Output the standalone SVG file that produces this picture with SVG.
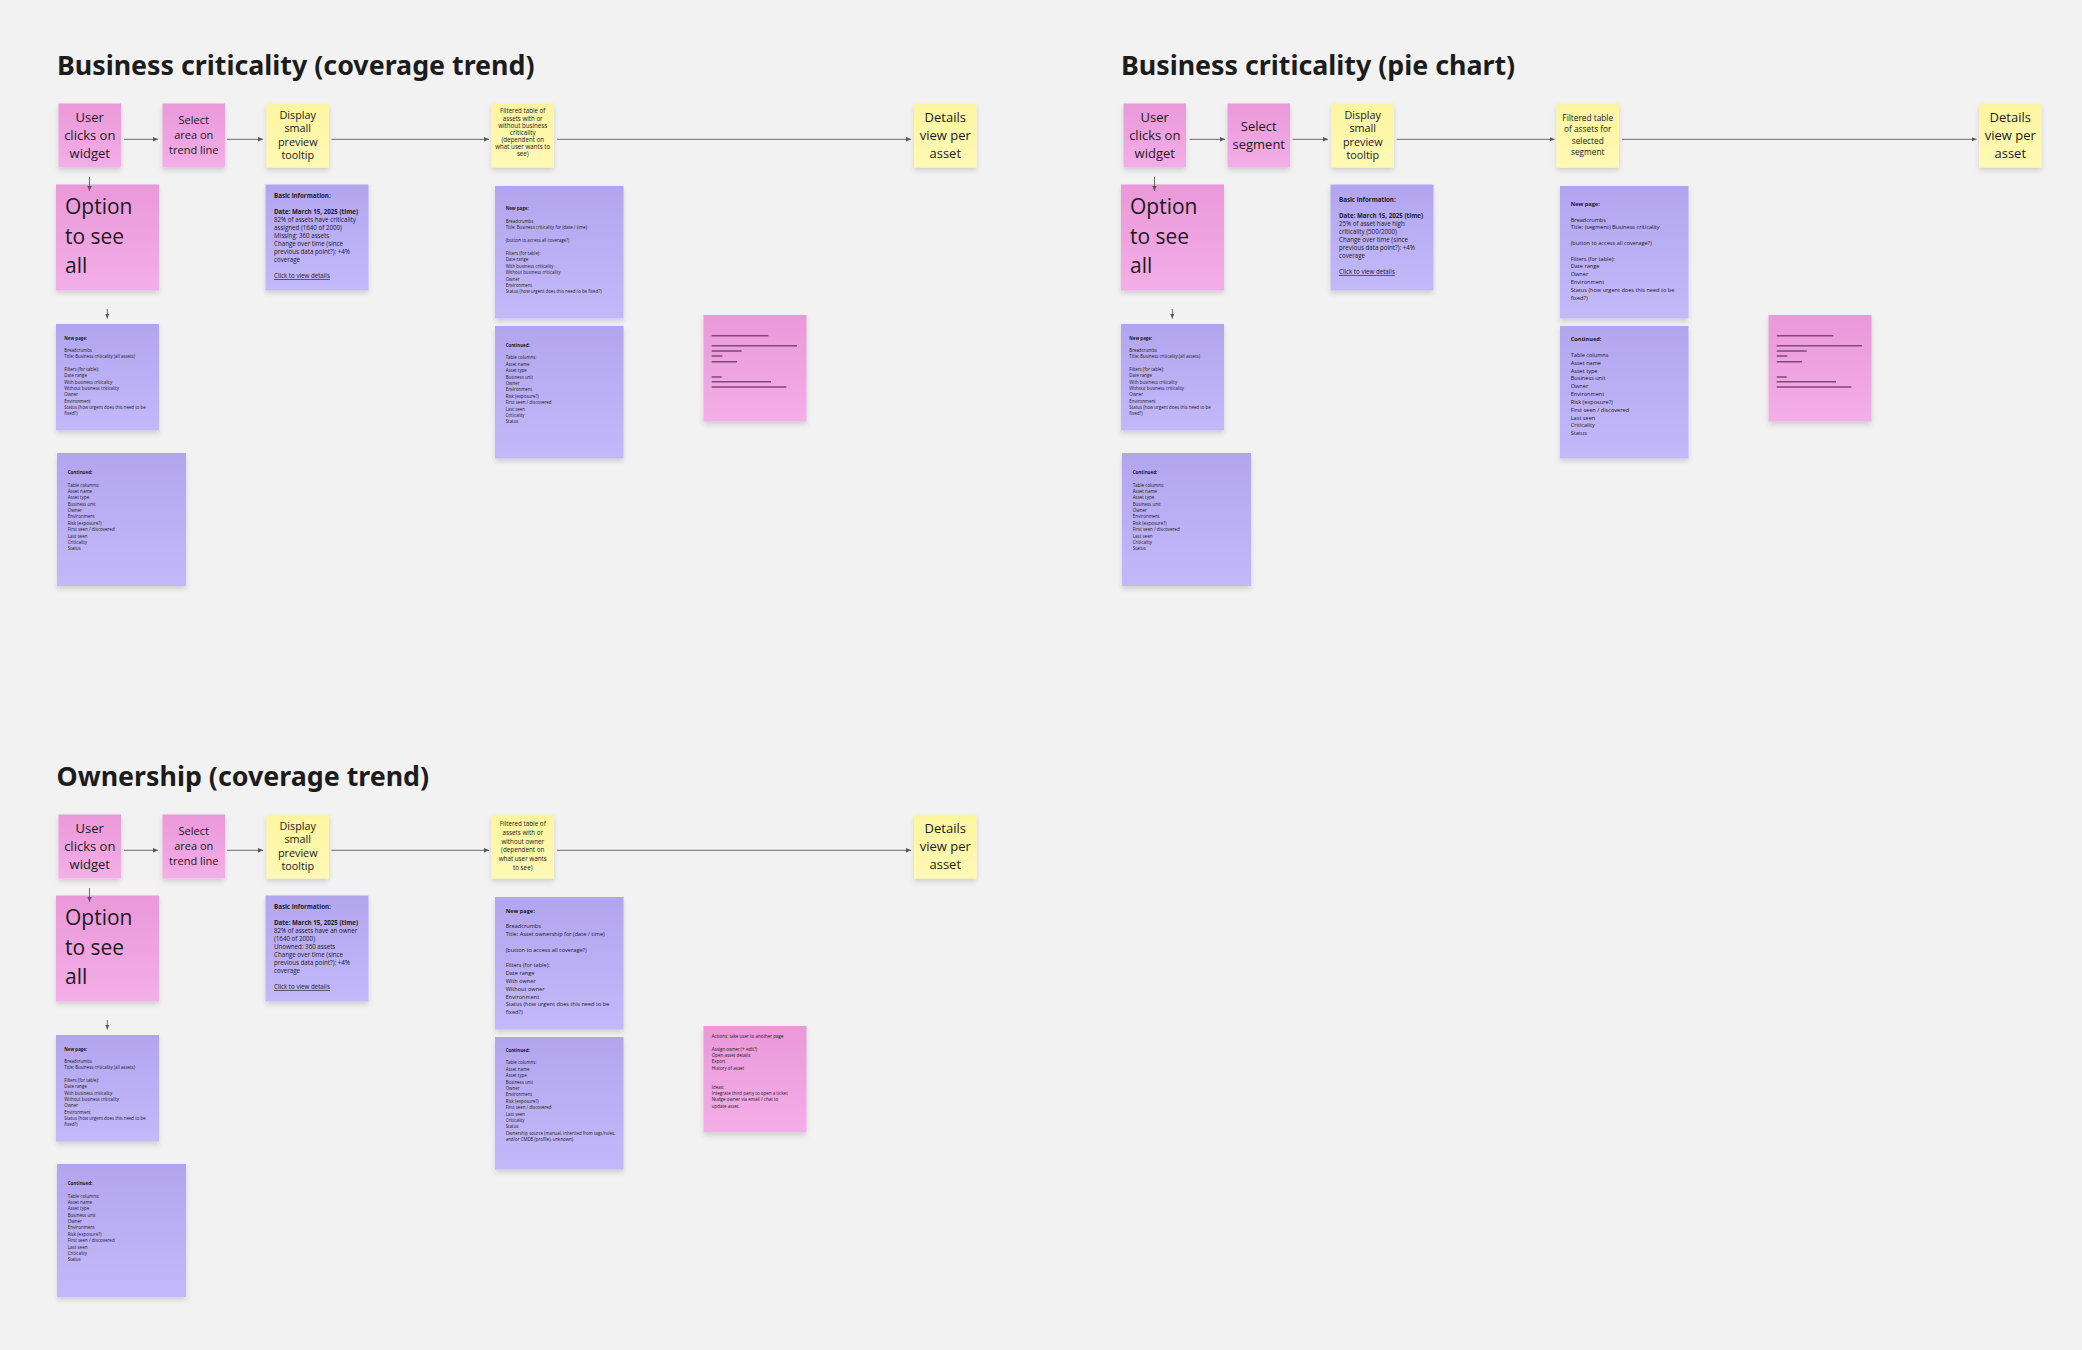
<svg xmlns="http://www.w3.org/2000/svg" width="2082" height="1350" viewBox="0 0 2082 1350">
<defs>
<linearGradient id="gPink" x1="0" y1="0" x2="0" y2="1"><stop offset="0" stop-color="#ea98d9"/><stop offset="1" stop-color="#f3aee7"/></linearGradient>
<linearGradient id="gPurple" x1="0" y1="0" x2="0" y2="1"><stop offset="0" stop-color="#b2a5ef"/><stop offset="1" stop-color="#c3b9f9"/></linearGradient>
<linearGradient id="gYellow" x1="0" y1="0" x2="0" y2="1"><stop offset="0" stop-color="#fcf59f"/><stop offset="1" stop-color="#fff9b6"/></linearGradient>
<filter id="sh" x="-10%" y="-10%" width="130%" height="130%"><feDropShadow dx="0" dy="3" stdDeviation="2.5" flood-color="#000" flood-opacity="0.14"/></filter>
<marker id="ah" markerWidth="6" markerHeight="6" refX="5" refY="3" orient="auto" markerUnits="userSpaceOnUse"><path d="M0,0.8 L5,3 L0,5.2 z" fill="#555"/></marker>
</defs>
<style>
.h{font-family:"Noto Sans","Open Sans",sans-serif;font-weight:700;font-size:26.8px;fill:#1c1c1c}
.pk{fill:url(#gPink);filter:url(#sh)}
.pu{fill:url(#gPurple);filter:url(#sh)}
.ye{fill:url(#gYellow);filter:url(#sh)}
.c{stroke:#5c5c5c;stroke-width:0.9;fill:none;marker-end:url(#ah)}
.t{font-family:"Open Sans","Noto Sans",sans-serif;fill:#1a1a1a}
.m{text-anchor:middle}
.b{font-weight:700}
.u{text-decoration:underline}
.f13{font-size:13px}
.f11{font-size:11px}
.f108{font-size:10.8px}
.f83{font-size:8.3px}
.f63{font-size:6.3px}
.f62{font-size:6.2px}
.f56{font-size:5.6px}
.f45{font-size:4.5px}
.f44{font-size:4.4px}
.f21{font-size:21px}
.bar{stroke:#7e4a76;stroke-width:1.4}
</style>
<rect width="2082" height="1350" fill="#f2f2f2"/>

<!-- ============ Section 1 ============ -->
<text class="h" x="57" y="74.5">Business criticality (coverage trend)</text>

<g id="s1-user"><rect class="pk" x="58.5" y="103.5" width="62.5" height="64"/>
<text class="t m f13" x="89.75" y="122.2"><tspan>User</tspan><tspan x="89.75" dy="18">clicks on</tspan><tspan x="89.75" dy="18">widget</tspan></text></g>
<g id="s1-select"><rect class="pk" x="162.5" y="103.5" width="62.5" height="64"/>
<text class="t m f11" x="193.75" y="124"><tspan>Select</tspan><tspan x="193.75" dy="15">area on</tspan><tspan x="193.75" dy="15">trend line</tspan></text></g>
<g id="s1-display"><rect class="ye" x="266.5" y="103.5" width="62.5" height="64"/>
<text class="t m f108" x="297.75" y="118.7"><tspan>Display</tspan><tspan x="297.75" dy="13.5">small</tspan><tspan x="297.75" dy="13.5">preview</tspan><tspan x="297.75" dy="13.5">tooltip</tspan></text></g>
<g id="s1-filter"><rect class="ye" x="491.5" y="103.5" width="62.5" height="64"/>
<text class="t m f62" x="522.75" y="113.4"><tspan>Filtered table of</tspan><tspan x="522.75" dy="7.17">assets with or</tspan><tspan x="522.75" dy="7.17">without business</tspan><tspan x="522.75" dy="7.17">criticality</tspan><tspan x="522.75" dy="7.17">(dependent on</tspan><tspan x="522.75" dy="7.17">what user wants to</tspan><tspan x="522.75" dy="7.17">see)</tspan></text></g>
<g id="s1-details"><rect class="ye" x="914" y="103.5" width="62.5" height="64"/>
<text class="t m f13" x="945.25" y="122.2"><tspan>Details</tspan><tspan x="945.25" dy="18">view per</tspan><tspan x="945.25" dy="18">asset</tspan></text></g>

<g id="s1-option"><rect class="pk" x="56" y="184.5" width="103" height="106"/>
<text class="t f21" x="65" y="214"><tspan>Option</tspan><tspan x="65" dy="29.5">to see</tspan><tspan x="65" dy="29.5">all</tspan></text></g>
<g id="s1-newpage-left"><rect class="pu" x="56" y="324" width="103" height="106.5"/>
<text class="t f44" x="64.3" y="339.5"><tspan class="b">New page:</tspan><tspan x="64.3" dy="12.6">Breadcrumbs</tspan><tspan x="64.3" dy="6.3">Title: Business criticality (all assets)</tspan><tspan x="64.3" dy="12.6">Filters (for table):</tspan><tspan x="64.3" dy="6.3">Date range</tspan><tspan x="64.3" dy="6.3">With business criticality</tspan><tspan x="64.3" dy="6.3">Without business criticality</tspan><tspan x="64.3" dy="6.3">Owner</tspan><tspan x="64.3" dy="6.3">Environment</tspan><tspan x="64.3" dy="6.3">Status (how urgent does this need to be</tspan><tspan x="64.3" dy="6.3">fixed?)</tspan></text></g>
<g id="s1-continued-left"><rect class="pu" x="57" y="453" width="129" height="133"/>
<text class="t f45" x="67.7" y="473.8"><tspan class="b">Continued:</tspan><tspan x="67.7" dy="12.74">Table columns:</tspan><tspan x="67.7" dy="6.37">Asset name</tspan><tspan x="67.7" dy="6.37">Asset type</tspan><tspan x="67.7" dy="6.37">Business unit</tspan><tspan x="67.7" dy="6.37">Owner</tspan><tspan x="67.7" dy="6.37">Environment</tspan><tspan x="67.7" dy="6.37">Risk (exposure?)</tspan><tspan x="67.7" dy="6.37">First seen / discovered</tspan><tspan x="67.7" dy="6.37">Last seen</tspan><tspan x="67.7" dy="6.37">Criticality</tspan><tspan x="67.7" dy="6.37">Status</tspan></text></g>
<g id="s1-basic"><rect class="pu" x="265.5" y="184.5" width="103" height="106"/>
<text class="t f62" x="274" y="198"><tspan class="b">Basic information:</tspan><tspan class="b" x="274" dy="16">Date: March 15, 2025 (time)</tspan><tspan x="274" dy="8">82% of assets have criticality</tspan><tspan x="274" dy="8">assigned (1640 of 2000)</tspan><tspan x="274" dy="8">Missing: 360 assets</tspan><tspan x="274" dy="8">Change over time (since</tspan><tspan x="274" dy="8">previous data point?): +4%</tspan><tspan x="274" dy="8">coverage</tspan><tspan class="u" x="274" dy="16">Click to view details</tspan></text></g>
<g id="s1-newpage-right"><rect class="pu" x="495" y="186" width="128.5" height="132.5"/>
<text class="t f44" x="505.7" y="210.2"><tspan class="b">New page:</tspan><tspan x="505.7" dy="12.8">Breadcrumbs</tspan><tspan x="505.7" dy="6.4">Title: Business criticality for (date / time)</tspan><tspan x="505.7" dy="12.8">(button to access all coverage?)</tspan><tspan x="505.7" dy="12.8">Filters (for table):</tspan><tspan x="505.7" dy="6.4">Date range</tspan><tspan x="505.7" dy="6.4">With business criticality</tspan><tspan x="505.7" dy="6.4">Without business criticality</tspan><tspan x="505.7" dy="6.4">Owner</tspan><tspan x="505.7" dy="6.4">Environment</tspan><tspan x="505.7" dy="6.4">Status (how urgent does this need to be fixed?)</tspan></text></g>
<g id="s1-continued-right"><rect class="pu" x="495" y="326" width="128.5" height="132.5"/>
<text class="t f44" x="505.7" y="346.5"><tspan class="b">Continued:</tspan><tspan x="505.7" dy="12.8">Table columns:</tspan><tspan x="505.7" dy="6.4">Asset name</tspan><tspan x="505.7" dy="6.4">Asset type</tspan><tspan x="505.7" dy="6.4">Business unit</tspan><tspan x="505.7" dy="6.4">Owner</tspan><tspan x="505.7" dy="6.4">Environment</tspan><tspan x="505.7" dy="6.4">Risk (exposure?)</tspan><tspan x="505.7" dy="6.4">First seen / discovered</tspan><tspan x="505.7" dy="6.4">Last seen</tspan><tspan x="505.7" dy="6.4">Criticality</tspan><tspan x="505.7" dy="6.4">Status</tspan></text></g>
<g id="s1-redacted"><rect class="pk" x="703.5" y="315" width="103" height="106.5"/>
<path class="bar" d="M711.7,335.7H768.3M711.7,345.7H797M711.7,351H741.7M711.7,356H722.3M711.7,361.7H737M711.7,377H721.7M711.7,381.7H771M711.7,387H786.3"/></g>

<!-- ============ Section 2 ============ -->
<text class="h" x="1121" y="74.5">Business criticality (pie chart)</text>

<g id="s2-user"><rect class="pk" x="1123.5" y="103.5" width="62.5" height="64"/>
<text class="t m f13" x="1154.75" y="122.2"><tspan>User</tspan><tspan x="1154.75" dy="18">clicks on</tspan><tspan x="1154.75" dy="18">widget</tspan></text></g>
<g id="s2-select"><rect class="pk" x="1227.5" y="103.5" width="62.5" height="64"/>
<text class="t m f13" x="1258.75" y="131.2"><tspan>Select</tspan><tspan x="1258.75" dy="17.6">segment</tspan></text></g>
<g id="s2-display"><rect class="ye" x="1331.5" y="103.5" width="62.5" height="64"/>
<text class="t m f108" x="1362.75" y="118.7"><tspan>Display</tspan><tspan x="1362.75" dy="13.5">small</tspan><tspan x="1362.75" dy="13.5">preview</tspan><tspan x="1362.75" dy="13.5">tooltip</tspan></text></g>
<g id="s2-filter"><rect class="ye" x="1556.5" y="103.5" width="62.5" height="64"/>
<text class="t m f83" x="1587.75" y="120.9"><tspan>Filtered table</tspan><tspan x="1587.75" dy="11.4">of assets for</tspan><tspan x="1587.75" dy="11.4">selected</tspan><tspan x="1587.75" dy="11.4">segment</tspan></text></g>
<g id="s2-details"><rect class="ye" x="1979" y="103.5" width="62.5" height="64"/>
<text class="t m f13" x="2010.25" y="122.2"><tspan>Details</tspan><tspan x="2010.25" dy="18">view per</tspan><tspan x="2010.25" dy="18">asset</tspan></text></g>

<g id="s2-option"><rect class="pk" x="1121" y="184.5" width="103" height="106"/>
<text class="t f21" x="1130" y="214"><tspan>Option</tspan><tspan x="1130" dy="29.5">to see</tspan><tspan x="1130" dy="29.5">all</tspan></text></g>
<g id="s2-newpage-left"><rect class="pu" x="1121" y="324" width="103" height="106.5"/>
<text class="t f44" x="1129.3" y="339.5"><tspan class="b">New page:</tspan><tspan x="1129.3" dy="12.6">Breadcrumbs</tspan><tspan x="1129.3" dy="6.3">Title: Business criticality (all assets)</tspan><tspan x="1129.3" dy="12.6">Filters (for table):</tspan><tspan x="1129.3" dy="6.3">Date range</tspan><tspan x="1129.3" dy="6.3">With business criticality</tspan><tspan x="1129.3" dy="6.3">Without business criticality</tspan><tspan x="1129.3" dy="6.3">Owner</tspan><tspan x="1129.3" dy="6.3">Environment</tspan><tspan x="1129.3" dy="6.3">Status (how urgent does this need to be</tspan><tspan x="1129.3" dy="6.3">fixed?)</tspan></text></g>
<g id="s2-continued-left"><rect class="pu" x="1122" y="453" width="129" height="133"/>
<text class="t f45" x="1132.7" y="473.8"><tspan class="b">Continued:</tspan><tspan x="1132.7" dy="12.74">Table columns:</tspan><tspan x="1132.7" dy="6.37">Asset name</tspan><tspan x="1132.7" dy="6.37">Asset type</tspan><tspan x="1132.7" dy="6.37">Business unit</tspan><tspan x="1132.7" dy="6.37">Owner</tspan><tspan x="1132.7" dy="6.37">Environment</tspan><tspan x="1132.7" dy="6.37">Risk (exposure?)</tspan><tspan x="1132.7" dy="6.37">First seen / discovered</tspan><tspan x="1132.7" dy="6.37">Last seen</tspan><tspan x="1132.7" dy="6.37">Criticality</tspan><tspan x="1132.7" dy="6.37">Status</tspan></text></g>
<g id="s2-basic"><rect class="pu" x="1330.5" y="184.5" width="103" height="106"/>
<text class="t f62" x="1339" y="202"><tspan class="b">Basic information:</tspan><tspan class="b" x="1339" dy="16">Date: March 15, 2025 (time)</tspan><tspan x="1339" dy="8">25% of asset have high</tspan><tspan x="1339" dy="8">criticality (500/2000)</tspan><tspan x="1339" dy="8">Change over time (since</tspan><tspan x="1339" dy="8">previous data point?): +4%</tspan><tspan x="1339" dy="8">coverage</tspan><tspan class="u" x="1339" dy="16">Click to view details</tspan></text></g>
<g id="s2-newpage-right"><rect class="pu" x="1560" y="186" width="128.5" height="132.5"/>
<text class="t f56" x="1570.7" y="206"><tspan class="b">New page:</tspan><tspan x="1570.7" dy="15.6">Breadcrumbs</tspan><tspan x="1570.7" dy="7.8">Title: (segment) Business criticality</tspan><tspan x="1570.7" dy="15.6">(button to access all coverage?)</tspan><tspan x="1570.7" dy="15.6">Filters (for table):</tspan><tspan x="1570.7" dy="7.8">Date range</tspan><tspan x="1570.7" dy="7.8">Owner</tspan><tspan x="1570.7" dy="7.8">Environment</tspan><tspan x="1570.7" dy="7.8">Status (how urgent does this need to be</tspan><tspan x="1570.7" dy="7.8">fixed?)</tspan></text></g>
<g id="s2-continued-right"><rect class="pu" x="1560" y="326" width="128.5" height="132.5"/>
<text class="t f56" x="1570.7" y="341.3"><tspan class="b">Continued:</tspan><tspan x="1570.7" dy="15.66">Table columns</tspan><tspan x="1570.7" dy="7.83">Asset name</tspan><tspan x="1570.7" dy="7.83">Asset type</tspan><tspan x="1570.7" dy="7.83">Business unit</tspan><tspan x="1570.7" dy="7.83">Owner</tspan><tspan x="1570.7" dy="7.83">Environment</tspan><tspan x="1570.7" dy="7.83">Risk (exposure?)</tspan><tspan x="1570.7" dy="7.83">First seen / discovered</tspan><tspan x="1570.7" dy="7.83">Last seen</tspan><tspan x="1570.7" dy="7.83">Criticality</tspan><tspan x="1570.7" dy="7.83">Status</tspan></text></g>
<g id="s2-redacted"><rect class="pk" x="1768.5" y="315" width="103" height="106.5"/>
<path class="bar" d="M1776.7,335.7H1833.3M1776.7,345.7H1862M1776.7,351H1806.7M1776.7,356H1787.3M1776.7,361.7H1802M1776.7,377H1786.7M1776.7,381.7H1836M1776.7,387H1851.3"/></g>

<!-- ============ Section 3 ============ -->
<text class="h" x="56.5" y="785.5">Ownership (coverage trend)</text>

<g id="s3-user"><rect class="pk" x="58.5" y="814.5" width="62.5" height="64"/>
<text class="t m f13" x="89.75" y="833.2"><tspan>User</tspan><tspan x="89.75" dy="18">clicks on</tspan><tspan x="89.75" dy="18">widget</tspan></text></g>
<g id="s3-select"><rect class="pk" x="162.5" y="814.5" width="62.5" height="64"/>
<text class="t m f11" x="193.75" y="835"><tspan>Select</tspan><tspan x="193.75" dy="15">area on</tspan><tspan x="193.75" dy="15">trend line</tspan></text></g>
<g id="s3-display"><rect class="ye" x="266.5" y="814.5" width="62.5" height="64"/>
<text class="t m f108" x="297.75" y="829.7"><tspan>Display</tspan><tspan x="297.75" dy="13.5">small</tspan><tspan x="297.75" dy="13.5">preview</tspan><tspan x="297.75" dy="13.5">tooltip</tspan></text></g>
<g id="s3-filter"><rect class="ye" x="491.5" y="814.5" width="62.5" height="64"/>
<text class="t m f63" x="522.75" y="826.2"><tspan>Filtered table of</tspan><tspan x="522.75" dy="8.7">assets with or</tspan><tspan x="522.75" dy="8.7">without owner</tspan><tspan x="522.75" dy="8.7">(dependent on</tspan><tspan x="522.75" dy="8.7">what user wants</tspan><tspan x="522.75" dy="8.7">to see)</tspan></text></g>
<g id="s3-details"><rect class="ye" x="914" y="814.5" width="62.5" height="64"/>
<text class="t m f13" x="945.25" y="833.2"><tspan>Details</tspan><tspan x="945.25" dy="18">view per</tspan><tspan x="945.25" dy="18">asset</tspan></text></g>

<g id="s3-option"><rect class="pk" x="56" y="895.5" width="103" height="106"/>
<text class="t f21" x="65" y="925"><tspan>Option</tspan><tspan x="65" dy="29.5">to see</tspan><tspan x="65" dy="29.5">all</tspan></text></g>
<g id="s3-newpage-left"><rect class="pu" x="56" y="1035" width="103" height="106.5"/>
<text class="t f44" x="64.3" y="1050.5"><tspan class="b">New page:</tspan><tspan x="64.3" dy="12.6">Breadcrumbs</tspan><tspan x="64.3" dy="6.3">Title: Business criticality (all assets)</tspan><tspan x="64.3" dy="12.6">Filters (for table):</tspan><tspan x="64.3" dy="6.3">Date range</tspan><tspan x="64.3" dy="6.3">With business criticality</tspan><tspan x="64.3" dy="6.3">Without business criticality</tspan><tspan x="64.3" dy="6.3">Owner</tspan><tspan x="64.3" dy="6.3">Environment</tspan><tspan x="64.3" dy="6.3">Status (how urgent does this need to be</tspan><tspan x="64.3" dy="6.3">fixed?)</tspan></text></g>
<g id="s3-continued-left"><rect class="pu" x="57" y="1164" width="129" height="133"/>
<text class="t f45" x="67.7" y="1184.8"><tspan class="b">Continued:</tspan><tspan x="67.7" dy="12.74">Table columns:</tspan><tspan x="67.7" dy="6.37">Asset name</tspan><tspan x="67.7" dy="6.37">Asset type</tspan><tspan x="67.7" dy="6.37">Business unit</tspan><tspan x="67.7" dy="6.37">Owner</tspan><tspan x="67.7" dy="6.37">Environment</tspan><tspan x="67.7" dy="6.37">Risk (exposure?)</tspan><tspan x="67.7" dy="6.37">First seen / discovered</tspan><tspan x="67.7" dy="6.37">Last seen</tspan><tspan x="67.7" dy="6.37">Criticality</tspan><tspan x="67.7" dy="6.37">Status</tspan></text></g>
<g id="s3-basic"><rect class="pu" x="265.5" y="895.5" width="103" height="106"/>
<text class="t f62" x="274" y="909.3"><tspan class="b">Basic Information:</tspan><tspan class="b" x="274" dy="16">Date: March 15, 2025 (time)</tspan><tspan x="274" dy="8">82% of assets have an owner</tspan><tspan x="274" dy="8">(1640 of 2000)</tspan><tspan x="274" dy="8">Unowned: 360 assets</tspan><tspan x="274" dy="8">Change over time (since</tspan><tspan x="274" dy="8">previous data point?): +4%</tspan><tspan x="274" dy="8">coverage</tspan><tspan class="u" x="274" dy="16">Click to view details</tspan></text></g>
<g id="s3-newpage-right"><rect class="pu" x="495" y="897" width="128.5" height="132.5"/>
<text class="t f56" x="505.7" y="912.7"><tspan class="b">New page:</tspan><tspan x="505.7" dy="15.6">Breadcrumbs</tspan><tspan x="505.7" dy="7.8">Title: Asset ownership for (date / time)</tspan><tspan x="505.7" dy="15.6">(button to access all coverage?)</tspan><tspan x="505.7" dy="15.6">Filters (for table):</tspan><tspan x="505.7" dy="7.8">Date range</tspan><tspan x="505.7" dy="7.8">With owner</tspan><tspan x="505.7" dy="7.8">Without owner</tspan><tspan x="505.7" dy="7.8">Environment</tspan><tspan x="505.7" dy="7.8">Status (how urgent does this need to be</tspan><tspan x="505.7" dy="7.8">fixed?)</tspan></text></g>
<g id="s3-continued-right"><rect class="pu" x="495" y="1037" width="128.5" height="132.5"/>
<text class="t f44" x="505.7" y="1051.5"><tspan class="b">Continued:</tspan><tspan x="505.7" dy="12.8">Table columns:</tspan><tspan x="505.7" dy="6.4">Asset name</tspan><tspan x="505.7" dy="6.4">Asset type</tspan><tspan x="505.7" dy="6.4">Business unit</tspan><tspan x="505.7" dy="6.4">Owner</tspan><tspan x="505.7" dy="6.4">Environment</tspan><tspan x="505.7" dy="6.4">Risk (exposure?)</tspan><tspan x="505.7" dy="6.4">First seen / discovered</tspan><tspan x="505.7" dy="6.4">Last seen</tspan><tspan x="505.7" dy="6.4">Criticality</tspan><tspan x="505.7" dy="6.4">Status</tspan><tspan x="505.7" dy="6.4">Ownership source (manual, inherited from tags/rules,</tspan><tspan x="505.7" dy="6.4">and/or CMDB (profile), unknown)</tspan></text></g>
<g id="s3-actions"><rect class="pk" x="703.5" y="1026" width="103" height="106.5"/>
<text class="t f45" x="711.7" y="1038.2"><tspan>Actions: take user to another page</tspan><tspan x="711.7" dy="12.6">Assign owner (+ edit?)</tspan><tspan x="711.7" dy="6.3">Open asset details</tspan><tspan x="711.7" dy="6.3">Export</tspan><tspan x="711.7" dy="6.3">History of asset</tspan><tspan x="711.7" dy="18.9">Ideas:</tspan><tspan x="711.7" dy="6.3">Integrate third party to open a ticket</tspan><tspan x="711.7" dy="6.3">Nudge owner via email / chat to</tspan><tspan x="711.7" dy="6.3">update asset.</tspan></text></g>

<!-- ============ Connectors ============ -->
<g id="connectors">
<path class="c" d="M124,139.3H158"/>
<path class="c" d="M227,139.3H263"/>
<path class="c" d="M331.5,139.3H489"/>
<path class="c" d="M557,139.3H911"/>
<path class="c" d="M89.5,177V191"/>
<path class="c" d="M107.3,309V318.5"/>
<path class="c" d="M1189.6,139.3H1225"/>
<path class="c" d="M1292.5,139.3H1328"/>
<path class="c" d="M1396.6,139.3H1554.6"/>
<path class="c" d="M1622,139.3H1976.5"/>
<path class="c" d="M1154.5,177V191"/>
<path class="c" d="M1172.3,309V318.5"/>
<path class="c" d="M124,850.3H158"/>
<path class="c" d="M227,850.3H263"/>
<path class="c" d="M331.5,850.3H489"/>
<path class="c" d="M557,850.3H911"/>
<path class="c" d="M89.5,888V902"/>
<path class="c" d="M107.3,1020V1029.5"/>
</g>
</svg>
